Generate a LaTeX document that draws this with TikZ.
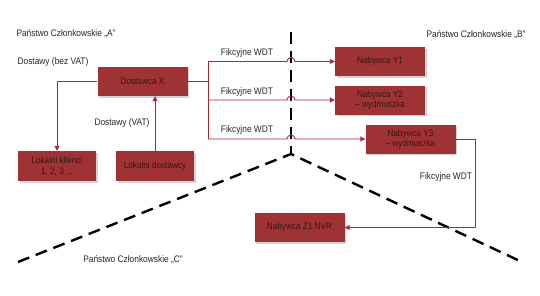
\documentclass[tikz,border=0pt]{standalone}
\usepackage{fontspec}
\setmainfont{Liberation Sans}[FakeStretch=0.88]
\usetikzlibrary{arrows.meta,shadows}

\definecolor{boxred}{RGB}{158,50,52}
\definecolor{linered}{RGB}{176,36,58}
\definecolor{boxtext}{RGB}{60,22,22}

\tikzset{
  firma/.style={fill=boxred,text=boxtext,minimum width=90pt,minimum height=29pt,
    align=center,inner sep=1pt,font=\fontsize{9.3}{10.5}\selectfont,
    drop shadow={shadow xshift=1.5pt,shadow yshift=-1.5pt,opacity=0.35}},
  linia/.style={draw=linered,line width=0.9pt},
  dostawa/.style={linia,-{Triangle[length=5pt,width=5pt]}},
  granica/.style={line width=2.4pt,dash pattern=on 12pt off 7pt},
  opis/.style={font=\fontsize{9.5}{11}\selectfont,text=black!85,inner sep=0pt}
}

\begin{document}
\begin{tikzpicture}[x=1pt,y=-1pt]
\useasboundingbox (0,0) rectangle (540,295);
%
	\coordinate (szczyt) at (291,32);
	\coordinate (srodek) at (291,154);
	\coordinate (lewy) at (18,262);
	\coordinate (prawy) at (522,262);
	\draw[granica] (szczyt) -- (srodek);
	\draw[granica] (lewy) -- (srodek) -- (prawy);
%
	\node[opis] (panstwoA) at (66,34) {Państwo Członkowskie „A”};
	\node[opis] (panstwoB) at (476,35) {Państwo Członkowskie „B”};
	\node[opis] (panstwoC) at (133,260) {Państwo Członkowskie „C”};
%
	\node[firma] (dostawca) at (142.5,81.5) {Dostawca X};
	\node[firma,minimum width=78pt,minimum height=30pt] (klienci) at (57,166) {Lokalni klienci\\1, 2, 3 ...};
	\node[firma,minimum width=78pt,minimum height=30pt] (lokdost) at (155,166) {Lokalni dostawcy};
	\node[firma] (y1) at (380,61.5) {Nabywca Y1};
	\node[firma] (y2) at (380,100) {Nabywca Y2\\-- wydmuszka};
	\node[firma] (y3) at (410.5,139) {Nabywca Y3\\-- wydmuszka};
	\node[firma] (z1) at (299.5,227.5) {Nabywca Z1 NVR};
%
	\node[opis] (bezvat) at (53,62) {Dostawy (bez VAT)};
	\node[opis] (zvat) at (122,123) {Dostawy (VAT)};
	\node[opis] (wdt1) at (247,53) {Fikcyjne WDT};
	\node[opis] (wdt2) at (247,92) {Fikcyjne WDT};
	\node[opis] (wdt3) at (247,130) {Fikcyjne WDT};
	\node[opis] (wdt4) at (446,177) {Fikcyjne WDT};
%
	\draw[dostawa] (dostawca.west) -| (klienci.north);
	\draw[dostawa] (lokdost.north) -- (lokdost.north |- dostawca.south);
%
	\coordinate (rozgal) at (208,81.5);
	\coordinate (hop1) at (287,61.5);
	\coordinate (hop2) at (287,100);
	\coordinate (hop3) at (287,139);
	\draw[linia] (dostawca.east) -- (rozgal);
	\draw[linia] (rozgal |- y1) -- (rozgal |- y3);
	\draw[dostawa] (rozgal |- y1) -- (hop1) arc[start angle=180,end angle=0,radius=4pt] -- (y1.west);
	\draw[dostawa] (rozgal |- y2) -- (hop2) arc[start angle=180,end angle=0,radius=4pt] -- (y2.west);
	\draw[dostawa] (rozgal |- y3) -- (hop3) arc[start angle=180,end angle=0,radius=4pt] -- (y3.west);
	\draw[dostawa] (y3.east) -- ++(20,0) |- (z1.east);
%
\end{tikzpicture}
\end{document}
